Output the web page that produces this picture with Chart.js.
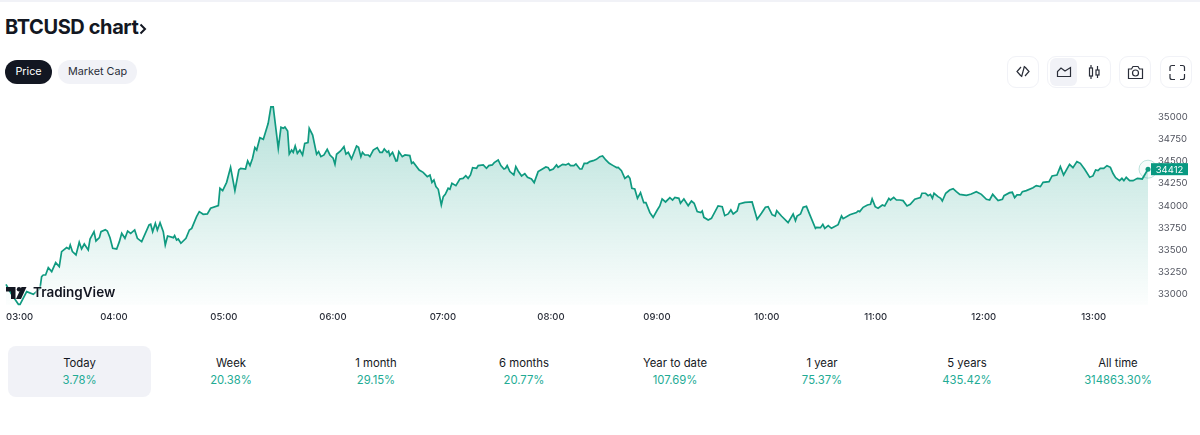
<!DOCTYPE html>
<html><head><meta charset="utf-8">
<script src="https://cdn.jsdelivr.net/npm/chart.js@4"></script>
<style>
html,body{margin:0;padding:0;background:#fff;width:1200px;height:435px;overflow:hidden;font-family:Inter,sans-serif}
.abs{position:absolute}
#topline{left:0;top:0;width:1200px;height:2px;background:#f1f2f7}
#title{left:5px;top:15px;font-size:20px;font-weight:700;color:#131722;line-height:24px;letter-spacing:-.4px}
.pill{top:60px;height:24px;line-height:24px;border-radius:12px;text-align:center;font-size:10.8px}
.btn{top:56px;height:30px;border:1px solid #f1f2f7;border-radius:9px;box-sizing:content-box}
.card{left:8px;top:346px;width:143px;height:51px;background:#f1f2f7;border-radius:8px}
.stat{top:355px;width:150px;text-align:center;font-size:11.3px;line-height:17px;color:#131722}
.stat b{display:block;font-weight:400;color:#22ab94}
canvas{position:absolute;left:0;top:95px}
#tv{left:33px;top:283px;font-size:13.5px;font-weight:600;color:#131722;line-height:19px;text-shadow:0 0 2px #fff,0 0 3px #fff}
svg.abs{overflow:visible}
</style></head><body>
<div class="abs" id="topline"></div>
<div class="abs" id="title">BTCUSD chart</div>
<svg class="abs" style="left:139px;top:23px" width="8" height="12" fill="none" stroke="#131722" stroke-width="2"><path d="M1.500 1.500 6 6 1.500 10.500"/></svg>
<div class="abs pill" style="left:5px;width:47px;background:#131722;color:#fff">Price</div>
<div class="abs pill" style="left:58px;width:79px;background:#f1f2f7;color:#2a2e39">Market Cap</div>
<div class="abs btn" style="left:1007px;width:30px"></div>
<div class="abs btn" style="left:1047px;width:62px"></div>
<div class="abs" style="left:1050px;top:58px;width:27px;height:28px;background:#f1f2f7;border-radius:6px"></div>
<div class="abs btn" style="left:1119px;width:30px"></div>
<div class="abs btn" style="left:1160px;width:30px"></div>
<svg class="abs" style="left:0;top:0" width="1200" height="100" fill="none" stroke="#2a2e39" stroke-width="1.2">
<path d="M1021 67 1017 71.500 1021 76M1025 67 1029 71.500 1025 76M1024.500 66 1021.500 77"/>
<path d="M1057.500 76.500V71.500L1061 68 1065 71 1070.500 67.500V76.500Z"/>
<path d="M1091 65V79M1097.500 66V78"/><rect x="1089.500" y="68" width="3" height="8" fill="#fff"/><rect x="1096" y="70" width="3" height="5" fill="#fff"/>
<path d="M1128.500 69h3l1.500-2.500h5l1.500 2.500h3v9.500h-14z"/><circle cx="1135.500" cy="73" r="3"/>
<path d="M1170 71v-3.500q0-2 2-2h3M1180 65.500h2.500q2 0 2 2V71M1184.500 74v3.500q0 2-2 2H1180M1175 79.500h-3q-2 0-2-2V74"/>
</svg>
<div class="abs card"></div>
<div id="stats"></div>
<canvas id="c" width="1200" height="237"></canvas>
<svg class="abs" style="left:6px;top:286px" width="24" height="14" fill="#131722"><path d="M0 1h9.500v12H5V5.500H0z"/><circle cx="13" cy="3.300" r="2.200"/><path d="M20.500 1 15 13h-5l5.500-12z"/></svg>
<div class="abs" id="tv">TradingView</div>
<script>
const minutes=[0,3.2,6.9,7.8,11.5,15.2,18.9,19.8,20.7,22,23.5,25.4,27.6,29.6,30.9,33.7,35,35.7,36.9,38.9,40.7,42,43.5,45.7,46.7,48.9,50,51.9,52.8,55.2,56.3,57.8,59.3,61.5,63,64.3,66.1,67.6,69.3,71.5,73,75.4,79.5,80.4,81.5,83,84.1,85.6,87.4,88.5,89.8,93,93.7,94.8,95.7,97.2,100,101.9,103.2,105.9,107.4,109.6,111.9,113.7,118,118.9,120.4,122.6,124.8,127.2,129.4,130.4,133.1,134.3,135.6,137,138.3,139.3,141.1,143,145.7,147.2,148.5,151.3,152.8,154.1,155,156.5,157.4,158.7,159.6,160.7,161.9,163.3,
164.8,166,167.8,168.5,170.4,172.6,173.7,175,176.7,178.5,180,181.8,182.8,183.7,185.9,187.8,188.9,190.2,192,194.8,195.9,197.2,198.1,199.4,201.3,202.2,204.1,206.3,207.8,209.1,210.2,211.8,212.6,213.3,214.8,216.7,217.4,218.3,220.2,221.7,224.4,225.4,226.3,229.6,231.8,234.1,235.6,236.7,237.8,238.9,240.2,241.9,243,244.1,245.7,246.7,247.8,250,252.2,254,255.5,256.8,258.1,259.3,261.5,262.4,265.2,267,268.3,270.2,271.3,273.5,275,276.7,277.6,278.5,280,282.2,283.3,284.6,286.5,288.3,289.8,292,293.5,295.7,298.1,300,301.3,302.2,304.1,305.9,306.8,309.3,311.1,312.6,313.7,315.6,316.7,318.9,320,321.3,323,324.4,326.3,328.1,330,
331.5,333.3,335.2,337.4,339.3,340.2,342,343.9,345.7,346.7,347.8,349.4,350.9,352.6,354.4,355.6,357.8,359.6,361.9,363.3,364.6,366.5,368.9,370.4,371.7,373.9,374.8,376.7,379.1,380.9,382.4,384.1,386.1,386.9,387.8,390.2,392,395.7,398,399.4,401.3,402.8,404.1,406.3,407.4,410.6,414.6,417.4,419.8,422,423.5,425.7,427.4,428.3,430.9,434.6,437.4,438.7,439.6,441.5,443,444.8,446.7,449.8,450.4,452.6,453.9,455,456.9,458.7,462.4,464.3,465.2,468.9,472.6,473.5,474.4,476.3,478.7,480.4,481.3,483,484.6,487,488.3,490.6,491.5,493.3,494.8,496.7,
498.5,500.7,502.5,505,508.1,509,511,512.4,513.7,514.8,515.7,517.9,519.4,520.3,522.2,524.4,526.3,528.1,530,533.7,536.4,539.2,542,544.8,546.6,548.3,551.3,553.7,554.6,557.7,559.2,560.5,561.8,563.7,564.8,567,570.7,572.5,574.8,576.3,579.6,581.3,584,585.9,587.7,591,592.9,595.1,597,599.4,602.2,604,605.5,606.8,608.1,610,611.8,613.7,615.1,616.6,618.8,620.1,621.2,622.5,624.4,626.3,628.7,631.4,632.7,634.6];
const prices=[33116,33000,32891,32891,33033,33003,33071,33202,33221,33221,33304,33259,33360,33315,33484,33529,33514,33559,33484,33446,33589,33514,33570,33502,33626,33709,33604,33641,33709,33731,33716,33641,33521,33514,33596,33690,33634,33716,33690,33728,33634,33596,33784,33792,33709,33803,33728,33810,33709,33559,33660,33641,33664,33615,33626,33578,33634,33728,33746,33878,33934,33904,33908,33972,34002,34197,34171,34264,34433,34171,34403,34422,34414,34505,34452,34535,34655,34628,34767,34749,34929,35113,35113,34647,34884,34872,34887,34842,34583,34628,34602,34673,34591,34628,
34572,34703,34711,34872,34797,34580,34610,34553,34572,34636,34572,34535,34467,34580,34617,34666,34583,34602,34527,34673,34658,34553,34602,34572,34572,34553,34628,34655,34602,34602,34640,34602,34617,34565,34602,34505,34508,34610,34553,34572,34565,34478,34490,34403,34377,34328,34347,34264,34291,34216,34186,34009,34103,34129,34197,34186,34253,34227,34302,34309,34339,34309,34347,34429,34422,34452,34460,34422,34452,34460,34486,34516,34452,34414,34422,34452,34385,34347,34441,34392,34336,34362,34321,34302,34261,34385,34414,34437,34429,34399,34414,34460,34433,34467,34460,34475,34452,34452,34471,34414,34414,34478,34478,34497,34508,34523,34553,
34561,34516,34478,34452,34430,34433,34396,34309,34336,34309,34197,34189,34084,34148,34035,34035,33923,33870,33953,33998,34077,34043,34092,34065,34095,34084,34028,34077,34002,34054,34028,33934,33923,33942,33870,33840,33859,33998,33990,33889,33908,33953,33908,33942,34020,34039,34043,33848,33915,33983,33990,33900,33885,33945,33885,33810,33908,33833,33885,33908,33983,33994,33897,33746,33758,33754,33791,33746,33776,33746,33788,33885,33855,33900,33923,33942,33934,33983,34009,34017,34077,33990,33972,34009,33998,34084,34065,34095,34065,34065,
34058,33998,34017,34073,34092,34141,34141,34114,34129,34084,34141,34103,34084,34054,34141,34178,34193,34159,34129,34118,34133,34159,34129,34073,34065,34129,34058,34073,34114,34148,34152,34092,34122,34122,34159,34171,34204,34227,34216,34264,34272,34336,34347,34441,34347,34467,34429,34497,34478,34411,34321,34336,34403,34396,34422,34422,34452,34433,34366,34317,34283,34309,34283,34321,34283,34283,34309,34302,34347,34412];
const hourLabels=['03:00','04:00','05:00','06:00','07:00','08:00','09:00','10:00','11:00','12:00','13:00'];
const hourTicks=[0,60,121.1,181.7,242.8,302.8,361.7,422.8,483.3,543.3,604.4];
const priceTicks=[33000,33250,33500,33750,34000,34250,34500,34750,35000];
const periods=['Today','Week','1 month','6 months','Year to date','1 year','5 years','All time'];
const changes=['3.78%','20.38%','29.15%','20.77%','107.69%','75.37%','435.42%','314863.30%'];
const lastPrice=34412, LINE='#0f9a80';
const centers=[79.5,231,376,524,675,822,967,1118];
periods.forEach((p,i)=>{const d=document.createElement('div');d.className='abs stat';d.style.left=(centers[i]-75)+'px';
 d.innerHTML=p+'<b>'+changes[i]+'</b>';document.getElementById('stats').appendChild(d);});
const tag={id:'tag',afterDraw(c){const x=c.chartArea.right+3,y=c.scales.y.getPixelForValue(lastPrice),g=c.ctx;
 g.save();g.fillStyle='#089981';g.fillRect(x,y-6,37,12);g.fillStyle='#fff';g.font='9.5px Inter';g.textBaseline='middle';g.textAlign='center';g.fillText(String(lastPrice),x+18.5,y+.5);g.restore();}};
new Chart(document.getElementById('c'),{type:'line',plugins:[tag],data:{datasets:[
 {data:minutes.map((m,i)=>({x:m,y:prices[i]})),borderColor:LINE,borderWidth:1.7,pointRadius:0,tension:0,fill:'start',
  backgroundColor(ctx){const a=ctx.chart.chartArea;if(!a)return'rgba(8,153,129,.25)';const g=ctx.chart.ctx.createLinearGradient(0,a.top,0,a.bottom);g.addColorStop(0,'rgba(8,153,129,.3)');g.addColorStop(1,'rgba(8,153,129,.01)');return g;},order:2},
 {data:[{x:minutes[minutes.length-1],y:lastPrice}],showLine:false,pointRadius:2.5,pointBackgroundColor:LINE,pointBorderWidth:0,order:1},
 {data:[{x:minutes[minutes.length-1],y:lastPrice}],showLine:false,pointRadius:9,pointBackgroundColor:'rgba(8,153,129,.04)',pointBorderColor:'rgba(8,153,129,.25)',pointBorderWidth:1,order:3}
]},options:{responsive:false,animation:false,events:[],layout:{autoPadding:false,padding:{left:6,top:5,bottom:0,right:0}},
 clip:false,
 plugins:{legend:{display:false},tooltip:{enabled:false}},
 scales:{
  x:{type:'linear',min:0,max:minutes[minutes.length-1],grid:{display:false,drawTicks:false,tickLength:0},border:{display:false},
   afterBuildTicks(s){s.ticks=hourTicks.map(v=>({value:v})).concat([{value:minutes[minutes.length-1]}]);},
   afterFit(s){s.height=27;s.paddingLeft=0;s.paddingRight=0;},
   ticks:{autoSkip:false,maxRotation:0,align:'inner',padding:6,color:'#2a2e39',font:{family:'Inter',size:9.5,weight:'500'},
    callback(v,i){return i<hourLabels.length?hourLabels[i]:'';}}},
  y:{position:'right',min:32883,max:35191,grid:{display:false,drawTicks:false,tickLength:0},border:{display:false},
   afterBuildTicks(s){s.ticks=priceTicks.map(v=>({value:v}));},
   afterFit(s){s.width=52;s.paddingTop=0;s.paddingBottom=0;},
   ticks:{padding:10,color:'#50535e',font:{family:'Inter',size:9.5},callback:v=>String(v)}}
 }}});
</script>
</body></html>
